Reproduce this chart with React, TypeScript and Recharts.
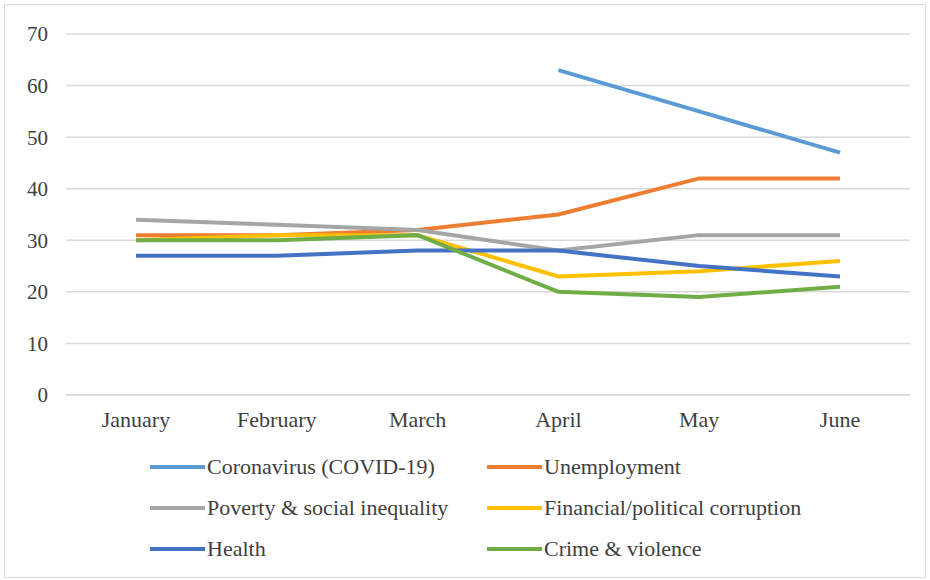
import { LineChart, Line, XAxis, YAxis, CartesianGrid } from "recharts";

const months = ["January", "February", "March", "April", "May", "June"];
const covid = [null, null, null, 63, 55, 47];
const unemployment = [31, 31, 32, 35, 42, 42];
const poverty = [34, 33, 32, 28, 31, 31];
const corruption = [30, 31, 31, 23, 24, 26];
const health = [27, 27, 28, 28, 25, 23];
const crime = [30, 30, 31, 20, 19, 21];
const yTicks = [0, 10, 20, 30, 40, 50, 60, 70];

const series = [
  { key: "covid", name: "Coronavirus (COVID-19)", color: "#5b9bd5", values: covid },
  { key: "unemployment", name: "Unemployment", color: "#ed7d31", values: unemployment },
  { key: "poverty", name: "Poverty & social inequality", color: "#a5a5a5", values: poverty },
  { key: "corruption", name: "Financial/political corruption", color: "#ffc000", values: corruption },
  { key: "health", name: "Health", color: "#4472c4", values: health },
  { key: "crime", name: "Crime & violence", color: "#70ad47", values: crime },
];

const data = months.map((m, i) => {
  const row: Record<string, string | number | null> = { month: m };
  series.forEach((s) => (row[s.key] = s.values[i]));
  return row;
});

const font = "'Liberation Serif', 'Times New Roman', serif";

export default function App() {
  return (
    <div
      style={{
        position: "absolute",
        left: 4,
        top: 4,
        width: 920,
        height: 572,
        border: "1px solid #d9d9d9",
        background: "#fff",
        fontFamily: font,
      }}
    >
      <LineChart width={920} height={572} data={data} margin={{ top: 29, right: 15, bottom: 142, left: 21 }}>
        <CartesianGrid vertical={false} stroke="#d9d9d9" strokeWidth={1.5} />
        <XAxis
          dataKey="month"
          axisLine={{ stroke: "#d9d9d9", strokeWidth: 1.5 }}
          tickLine={false}
          tickMargin={10}
          height={40}
          padding={{ left: 70, right: 70 }}
          tick={{ fill: "#404040", fontSize: 22, fontFamily: font }}
        />
        <YAxis
          domain={[0, 70]}
          ticks={yTicks}
          axisLine={false}
          tickLine={false}
          tickMargin={12}
          width={40}
          tick={{ fill: "#404040", fontSize: 21, fontFamily: font }}
        />
        {series.map((s) => (
          <Line
            key={s.key}
            dataKey={s.key}
            name={s.name}
            stroke={s.color}
            strokeWidth={4}
            dot={false}
            type="linear"
            isAnimationActive={false}
          />
        ))}
      </LineChart>
      {series.map((s, i) => (
        <div
          key={s.key}
          style={{
            position: "absolute",
            left: i % 2 === 0 ? 145 : 482,
            top: 449 + Math.floor(i / 2) * 41,
            display: "flex",
            alignItems: "center",
            fontSize: 22,
            lineHeight: "26px",
            color: "#404040",
            whiteSpace: "nowrap",
          }}
        >
          <span style={{ display: "inline-block", width: 55, height: 4, background: s.color, marginRight: 2 }} />
          {s.name}
        </div>
      ))}
    </div>
  );
}
